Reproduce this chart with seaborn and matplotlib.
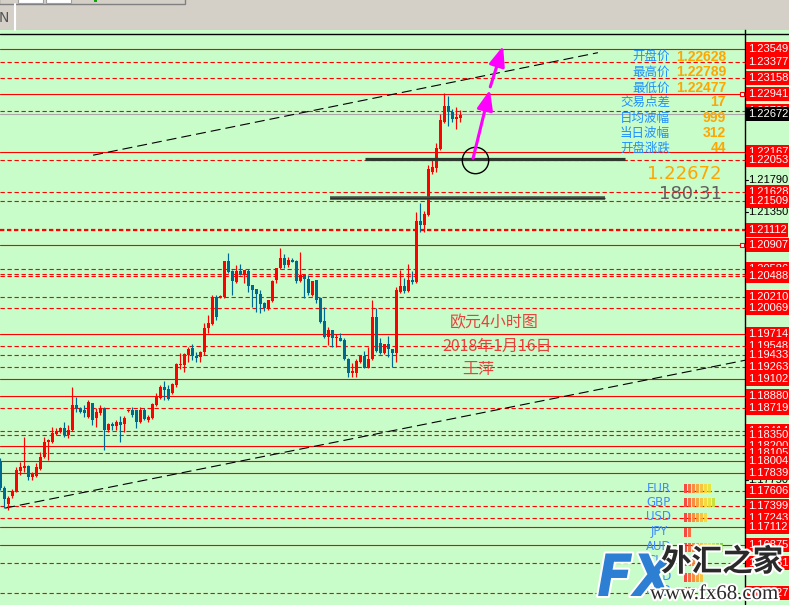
# %% EURUSD H4 chart (MT4 style) rebuilt with seaborn / matplotlib
import numpy as np
import pandas as pd
import seaborn as sns
import matplotlib
matplotlib.use("Agg")
import matplotlib.pyplot as plt
import matplotlib.patheffects as pe
from matplotlib.patches import Rectangle

# %% Data
opens = [1.1799, 1.1764, 1.1743, 1.1753, 1.1760, 1.1787, 1.1791, 1.1794, 1.1779, 1.1780,
         1.1790, 1.1806, 1.1826, 1.1826, 1.1837, 1.1839, 1.1845, 1.1835, 1.1842, 1.1876,
         1.1870, 1.1869, 1.1860, 1.1878, 1.1858, 1.1865, 1.1872, 1.1842, 1.1850, 1.1848,
         1.1853, 1.1850, 1.1868, 1.1869, 1.1869, 1.1853, 1.1869, 1.1856, 1.1858, 1.1876,
         1.1885, 1.1900, 1.1897, 1.1892, 1.1903, 1.1930, 1.1930, 1.1943, 1.1952, 1.1942,
         1.1940, 1.1947, 1.1979, 1.1985, 1.2021, 1.2021, 1.2021, 1.2070, 1.2056, 1.2041,
         1.2056, 1.2051, 1.2056, 1.2037, 1.2032, 1.2025, 1.2013, 1.2005, 1.2016, 1.2044,
         1.2060, 1.2074, 1.2064, 1.2071, 1.2070, 1.2043, 1.2051, 1.2045, 1.2024, 1.2044,
         1.2020, 1.1989, 1.1967, 1.1977, 1.1966, 1.1966, 1.1963, 1.1938, 1.1919, 1.1919,
         1.1934, 1.1942, 1.1926, 1.1938, 1.1994, 1.1959, 1.1946, 1.1958, 1.1951, 1.1946,
         1.2028, 1.2036, 1.2029, 1.2044, 1.2041, 1.2123, 1.2118, 1.2132, 1.2189, 1.2195,
         1.2220, 1.2257, 1.2278, 1.2270, 1.2261, 1.2262]
highs = [1.1804, 1.1767, 1.1753, 1.1763, 1.1792, 1.1799, 1.1833, 1.1795, 1.1786, 1.1798,
         1.1813, 1.1833, 1.1830, 1.1846, 1.1845, 1.1846, 1.1853, 1.1849, 1.1900, 1.1887,
         1.1873, 1.1876, 1.1883, 1.1878, 1.1872, 1.1876, 1.1873, 1.1852, 1.1853, 1.1856,
         1.1861, 1.1861, 1.1870, 1.1873, 1.1869, 1.1873, 1.1872, 1.1862, 1.1878, 1.1892,
         1.1903, 1.1908, 1.1903, 1.1905, 1.1932, 1.1946, 1.1946, 1.1954, 1.1958, 1.1947,
         1.1948, 1.1986, 1.1997, 1.2024, 1.2024, 1.2024, 1.2070, 1.2080, 1.2057, 1.2064,
         1.2066, 1.2057, 1.2059, 1.2037, 1.2032, 1.2031, 1.2014, 1.2017, 1.2044, 1.2060,
         1.2087, 1.2079, 1.2075, 1.2074, 1.2071, 1.2082, 1.2051, 1.2051, 1.2043, 1.2044,
         1.2021, 1.2008, 1.1981, 1.1977, 1.1971, 1.1973, 1.1966, 1.1939, 1.1932, 1.1938,
         1.1943, 1.1948, 1.1954, 1.2017, 1.2006, 1.1966, 1.1958, 1.1969, 1.1951, 1.2035,
         1.2057, 1.2047, 1.2066, 1.2056, 1.2136, 1.2148, 1.2137, 1.2199, 1.2208, 1.2228,
         1.2267, 1.2296, 1.2292, 1.2274, 1.2277, 1.2273]
lows = [1.1761, 1.1737, 1.1734, 1.1751, 1.1759, 1.1782, 1.1786, 1.1775, 1.1775, 1.1779,
        1.1788, 1.1804, 1.1802, 1.1825, 1.1835, 1.1838, 1.1833, 1.1831, 1.1841, 1.1866,
        1.1865, 1.1860, 1.1858, 1.1849, 1.1846, 1.1862, 1.1815, 1.1839, 1.1842, 1.1842,
        1.1826, 1.1839, 1.1866, 1.1860, 1.1845, 1.1852, 1.1856, 1.1853, 1.1857, 1.1874,
        1.1884, 1.1883, 1.1883, 1.1891, 1.1900, 1.1924, 1.1920, 1.1934, 1.1936, 1.1934,
        1.1934, 1.1943, 1.1973, 1.1983, 1.1990, 1.2020, 1.2020, 1.2053, 1.2024, 1.2040,
        1.2051, 1.2040, 1.2028, 1.2008, 1.2001, 1.1999, 1.2002, 1.2004, 1.2014, 1.2040,
        1.2059, 1.2060, 1.2062, 1.2068, 1.2040, 1.2041, 1.2020, 1.2024, 1.2022, 1.2013,
        1.1986, 1.1966, 1.1957, 1.1954, 1.1954, 1.1962, 1.1936, 1.1913, 1.1913, 1.1913,
        1.1932, 1.1926, 1.1926, 1.1936, 1.1947, 1.1944, 1.1944, 1.1940, 1.1927, 1.1934,
        1.2027, 1.2027, 1.2028, 1.2039, 1.2040, 1.2109, 1.2109, 1.2130, 1.2187, 1.2189,
        1.2219, 1.2255, 1.2251, 1.2257, 1.2247, 1.2257]
closes = [1.1764, 1.1749, 1.1751, 1.1760, 1.1788, 1.1792, 1.1794, 1.1779, 1.1783, 1.1792,
          1.1806, 1.1826, 1.1829, 1.1838, 1.1841, 1.1845, 1.1835, 1.1842, 1.1876, 1.1870,
          1.1866, 1.1865, 1.1880, 1.1856, 1.1866, 1.1872, 1.1842, 1.1850, 1.1848, 1.1853,
          1.1849, 1.1858, 1.1869, 1.1862, 1.1853, 1.1869, 1.1857, 1.1860, 1.1877, 1.1888,
          1.1900, 1.1896, 1.1884, 1.1904, 1.1931, 1.1931, 1.1944, 1.1951, 1.1942, 1.1939,
          1.1947, 1.1979, 1.1986, 1.2021, 1.1994, 1.2022, 1.2070, 1.2055, 1.2043, 1.2056,
          1.2051, 1.2057, 1.2036, 1.2031, 1.2025, 1.2012, 1.2006, 1.2017, 1.2043, 1.2060,
          1.2074, 1.2064, 1.2071, 1.2068, 1.2043, 1.2051, 1.2045, 1.2027, 1.2043, 1.2017,
          1.1987, 1.1967, 1.1977, 1.1966, 1.1967, 1.1962, 1.1938, 1.1919, 1.1922, 1.1935,
          1.1943, 1.1926, 1.1938, 1.1994, 1.1948, 1.1946, 1.1958, 1.1951, 1.1946, 1.2031,
          1.2036, 1.2029, 1.2044, 1.2041, 1.2123, 1.2118, 1.2133, 1.2193, 1.2196, 1.2222,
          1.2259, 1.2278, 1.2270, 1.2261, 1.2263, 1.2266]

solid_levels = [1.23549, 1.22941, 1.22167, 1.20907, 1.19714, 1.19102, 1.18880,
                1.18200, 1.18004, 1.17839, 1.17112, 1.16875]
dashed_levels = [1.23377, 1.23158, 1.22709, 1.22053, 1.21628, 1.21509, 1.21112,
                 1.20586, 1.20488, 1.20517, 1.20210, 1.20069, 1.19548, 1.19433,
                 1.19263, 1.18719, 1.18350, 1.18414, 1.18105, 1.17606, 1.17399,
                 1.17243, 1.16631, 1.16227]
axis_ticks = [1.23110, 1.21790, 1.21350, 1.20010, 1.17750]
bid = 1.22672
timer = "180:31"

upper_trend_x, upper_trend_y = [23.2, 149.4], [1.2212, 1.2350]
lower_trend_x, lower_trend_y = [1.2, 186.2], [1.1737, 1.1936]
support1_x, support1_y = [91.2, 156.2], [1.2207, 1.2207]
support2_x, support2_y = [82.4, 151.2], [1.2154, 1.2154]
circle_x, circle_y = 118.7, 1.2206
arrow1 = [(118.2, 1.2208), (122.4, 1.2300)]
arrow2 = [(122.5, 1.2304), (125.7, 1.2359)]

info_labels = ["开盘价", "最高价", "最低价", "交易点差", "日均波幅", "当日波幅", "开盘涨跌"]
info_values = ["1.22628", "1.22789", "1.22477", "17", "999", "312", "44"]

currencies = ["EUR", "GBP", "USD", "JPY", "AUD", "CHF", "CAD", "NZD"]
strength = [7, 8, 6, 2, 10, 4, 5, 3]

title_lines = ["欧元4小时图", "2018年1月16日", "王萍"]

# %% Style
sns.set_theme(style="white")
plt.rcParams["font.family"] = ["DejaVu Sans", "Noto Sans CJK SC"]
CJK = ["Noto Sans CJK SC", "DejaVu Sans"]

GREEN = "#c8fcc8"
RED = "#ff0000"
TEAL = "#00698f"
W, H = 789, 605

fig = plt.figure(figsize=(W / 100, H / 100), dpi=100)
fig.patch.set_facecolor("#d4d0c8")

# main chart
ax = fig.add_axes([0, 0, 745 / W, 575 / H])
ax.set_facecolor(GREEN)
ax.set_xlim(-0.075, 186.175)
ax.set_ylim(1.160657, 1.238052)
for s in ax.spines.values():
    s.set_visible(False)
ax.set_xticks([])
ax.set_yticks([])

# price strip on the right
ax2 = fig.add_axes([745 / W, 0, 44 / W, 575 / H], sharey=ax)
ax2.set_facecolor(GREEN)
ax2.set_xlim(0, 1)
for s in ["top", "right", "bottom"]:
    ax2.spines[s].set_visible(False)
ax2.spines["left"].set_color("black")
ax2.spines["left"].set_linewidth(1.0)
ax2.tick_params(left=False, labelleft=False, bottom=False, labelbottom=False)

# %% Horizontal levels
top_line = 1.237514
ax.axhline(top_line, color="black", lw=1.0)
ax2.axhline(top_line, color="black", lw=1.0)
for lv in solid_levels:
    ax.axhline(lv, color=RED, lw=0.8)
for lv in dashed_levels:
    w = 1.6 if lv == 1.21112 else 0.8
    ax.axhline(lv, color=RED, lw=w, ls=(0, (3.9 * 0.8 / w, 2.4 * 0.8 / w)))
ax.axhline(bid, color="#a8a8a8", lw=0.8)

# %% Candles
df = pd.DataFrame({"open": opens, "high": highs, "low": lows, "close": closes})
df["idx"] = np.arange(len(df))
cols = np.where(df.close >= df.open, RED, TEAL)
ax.vlines(df.idx, df.low, df.high, colors=cols, lw=0.85, zorder=3)
body_low = np.minimum(df.open, df.close)
body_h = np.maximum((df.close - df.open).abs(), 0.00012)
ax.bar(df.idx, body_h, bottom=body_low, width=0.72, color=cols, linewidth=0, zorder=4)

# %% Trendlines, supports, circle, arrows
sns.lineplot(x=upper_trend_x, y=upper_trend_y, ax=ax, color="black", lw=0.8,
             linestyle=(0, (9, 4.5)), legend=False)
sns.lineplot(x=lower_trend_x, y=lower_trend_y, ax=ax, color="black", lw=0.8,
             linestyle=(0, (9, 4.5)), legend=False)
ax.plot(support1_x, support1_y, color="#2e3a2e", lw=2.3, solid_capstyle="butt", zorder=5)
ax.plot(support2_x, support2_y, color="#4a584a", lw=2.6, solid_capstyle="butt", zorder=5)
ax.plot(support2_x, support2_y, color="#2a332a", lw=1.0, solid_capstyle="butt", zorder=5)
ax.plot(circle_x, circle_y, "o", ms=19, mfc="none", mec="black", mew=1.0, zorder=6)
for start, end in (arrow1, arrow2):
    ax.annotate("", xy=end, xytext=start,
                arrowprops=dict(arrowstyle="-|>,head_length=1.0,head_width=0.4",
                                color="#ff00ff", lw=2.2, shrinkA=0, shrinkB=0),
                zorder=7)
for lv in (1.22941, 1.20907):
    ax.plot(185.4, lv, "s", ms=3.5, mfc="white", mec=RED, mew=0.8, clip_on=False, zorder=6)

# chart notes
note_pos = [(123.4, 1.19861), (124.2, 1.19552), (119.4, 1.19242)]
for txt, (nx, ny) in zip(title_lines, note_pos):
    ax.text(nx, ny, txt, color="#e8413c", fontsize=11.5, ha="center", va="center",
            family=CJK, zorder=8)

# %% Price labels on the right strip
lab = dict(fontsize=8, family="Liberation Sans", va="center", ha="left")
for t in axis_ticks:
    ax2.text(0.07, t, f"{t:.5f}", color="black", zorder=2, **lab)
    ax2.plot([0, 0.07], [t, t], color="black", lw=0.8)
for lv in sorted(solid_levels + dashed_levels, reverse=True):
    ax2.text(0.06, lv, f"{lv:.5f}", color="white", zorder=3,
             bbox=dict(boxstyle="square,pad=0.18", fc=RED, ec="none"), **lab)
ax2.text(0.06, bid, f"{bid:.5f}", color="white", zorder=4,
         bbox=dict(boxstyle="square,pad=0.16", fc="black", ec="none"), **lab)

# %% Overlay in pixel coordinates for panels and window chrome
ov = fig.add_axes([0, 0, 1, 1])
ov.set_xlim(0, W)
ov.set_ylim(H, 0)
ov.axis("off")

# toolbar bits
ov.add_patch(Rectangle((-1, -2), 186, 6, fill=False, ec="#808080", lw=1))
ov.add_patch(Rectangle((18, -2), 25, 5, fc="white", ec="#a0a0a0", lw=0.8))
ov.add_patch(Rectangle((46, -2), 25, 5, fc="white", ec="#a0a0a0", lw=0.8))
ov.add_patch(Rectangle((94, -1), 3, 3, fc="#10a010", ec="none"))
ov.plot([15, 15], [4, 30], color="white", lw=1.5)
ov.text(-1, 18, "N", color="#555555", fontsize=10, va="center", ha="left")

# info panel
rows_y = [57, 72, 88, 102, 118, 133, 148]
for name, val, y in zip(info_labels, info_values, rows_y):
    ov.text(670, y, name, color="#1e90ff", fontsize=9, ha="right", va="center", family=CJK)
    ov.text(726, y, val, color="#ffa500", fontsize=10, fontweight="bold", ha="right",
            va="center", family="Liberation Sans")
ov.text(722, 174, f"{bid:.5f}", color="#ffa500", fontsize=13, ha="right", va="center")
ov.text(722, 194, timer, color="#5f5f5f", fontsize=13, ha="right", va="center")

# currency strength
bar_colors = ["#ff2a2a", "#ff552a", "#ff7a2a", "#ff9a2a", "#ffb92a", "#ffd22a",
              "#ece02a", "#c8dc2a", "#a0d42a", "#78cc2a"]
cur_y = [488, 502, 517, 532, 547, 561, 577, 591]
for cur, n, y in zip(currencies, strength, cur_y):
    ov.text(659, y, cur, color="#3d8bff", fontsize=8.5, ha="center", va="center")
    ov.bar(684 + 4 * np.arange(n), 9, bottom=y - 4.5, width=3, align="edge",
           color=bar_colors[:n], alpha=0.85, linewidth=0)

# watermark
glow = [pe.withStroke(linewidth=3, foreground="white")]
ov.text(597, 596, "FX", fontsize=42, fontweight="bold", style="italic", color="#2d7fd3",
        ha="left", va="baseline", fontstretch="condensed", path_effects=glow, zorder=10)
ov.text(661, 562, "外汇之家", fontsize=22, fontweight="bold", color="#2a2a2a", family=CJK,
        ha="left", va="center", path_effects=glow, zorder=10)
ov.text(650, 599, "www.fx68.com", fontsize=15, family="Liberation Serif", color="#2a2a2a",
        ha="left", va="baseline", path_effects=glow, zorder=10)

fig.savefig("out.png", dpi=100, facecolor=fig.get_facecolor())
